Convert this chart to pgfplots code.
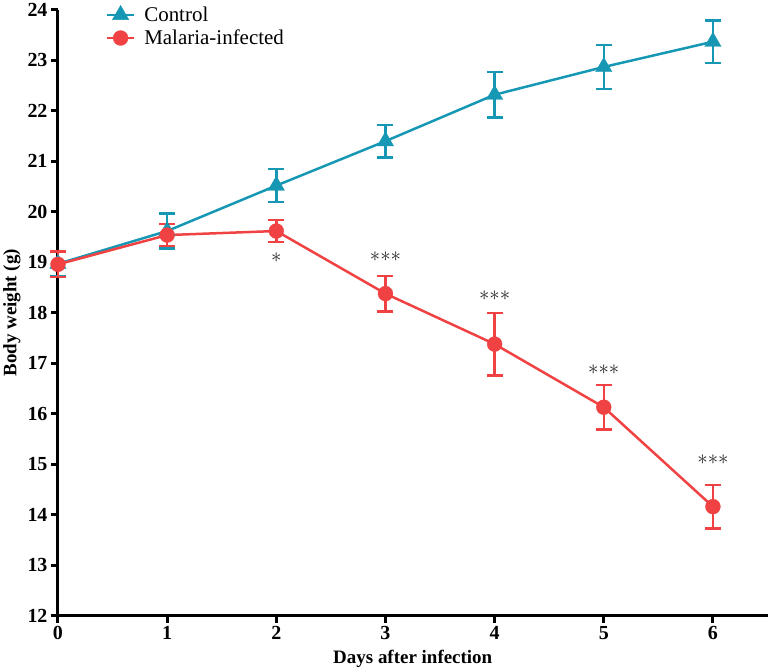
\documentclass[border=0pt]{standalone}
\usepackage{fontspec}
\setmainfont{Liberation Serif}
\usepackage{pgfplots}
\pgfplotsset{compat=1.18}
\definecolor{ctl}{RGB}{22,152,180}
\definecolor{mal}{RGB}{240,66,66}
\begin{document}
\begin{tikzpicture}
\begin{axis}[
  scale only axis, width=711pt, height=607pt,
  xmin=0, xmax=6.5, ymin=12, ymax=24,
  axis x line*=bottom, axis y line*=left,
  axis line style={line width=3pt, black},
  xtick={0,...,6}, ytick={12,...,24},
  tick align=outside, major tick length=7pt,
  tick style={line width=3pt, black},
  ticklabel style={font=\bfseries\fontsize{20}{20}\selectfont},
  /pgf/number format/assume math mode=true,
  xlabel={Days after infection}, ylabel={Body weight (g)},
  label style={font=\bfseries\fontsize{19}{19}\selectfont},
  xlabel style={yshift=-4pt},
  clip=false,
  legend style={draw=none, fill=none, at={(0.063,1.012)}, anchor=north west,
    font=\fontsize{21}{21}\selectfont, row sep=3pt,
    /tikz/every odd column/.append style={column sep=7pt}},
  legend cell align=left,
  legend image code/.code={\draw[mark repeat=2,mark phase=2] plot coordinates {(0pt,0pt)(13.5pt,0pt)(27pt,0pt)};},
]
\addplot[ctl, line width=2.5pt, mark=triangle*, mark size=9.5pt, mark options={line width=0.3pt, solid},
  error bars/.cd, y dir=both, y explicit,
  error bar style={line width=2.5pt},
  error mark options={rotate=90, mark size=8pt, line width=2.5pt}]
  table[x=x, y=y, y error=e] {
x y e
0 18.97 0.25
1 19.62 0.35
2 20.52 0.33
3 21.40 0.32
4 22.32 0.45
5 22.87 0.44
6 23.37 0.42
};
\addlegendentry{Control}
\addplot[mal, line width=2.5pt, mark=*, mark size=7.5pt, mark options={line width=0.3pt, solid},
  error bars/.cd, y dir=both, y explicit,
  error bar style={line width=2.5pt},
  error mark options={rotate=90, mark size=8pt, line width=2.5pt}]
  table[x=x, y=y, y error=e] {
x y e
0 18.96 0.25
1 19.54 0.22
2 19.62 0.22
3 18.38 0.35
4 17.38 0.62
5 16.13 0.44
6 14.16 0.43
};
\addlegendentry{Malaria-infected}
\begin{scope}[every node/.style={font=\fontsize{21}{21}\selectfont, text=black!85}]
\node at (axis cs:2,19.1) {${\ast}$};
\node at (axis cs:3,19.12) {${\ast}{\ast}{\ast}$};
\node at (axis cs:4,18.33) {${\ast}{\ast}{\ast}$};
\node at (axis cs:5,16.88) {${\ast}{\ast}{\ast}$};
\node at (axis cs:6,15.1) {${\ast}{\ast}{\ast}$};
\end{scope}
\end{axis}
\end{tikzpicture}
\end{document}
